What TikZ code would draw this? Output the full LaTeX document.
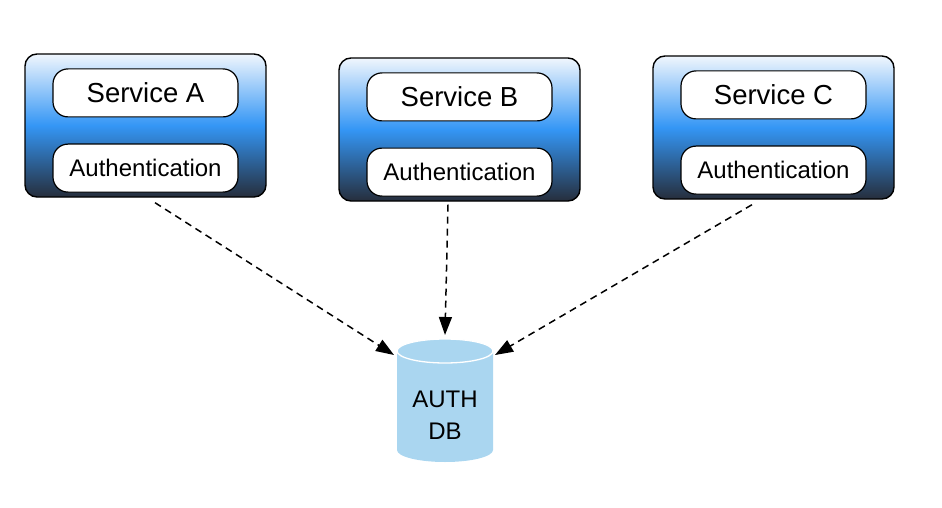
\documentclass[tikz,border=0pt]{standalone}
\usepackage{fontspec}
\setmainfont{Liberation Sans}
\usepackage{tikz}
\usetikzlibrary{arrows.meta,positioning,calc}
\definecolor{svctop}{RGB}{240,246,253}
\definecolor{svcblue}{RGB}{52,150,245}
\definecolor{svcdark}{RGB}{38,46,60}
\definecolor{dbfill}{RGB}{170,214,240}

\begin{document}
\begin{tikzpicture}[x=1pt, y=-1pt, >={Triangle[length=18pt,width=13pt]},
  svcbox/.style={draw, line width=1.4pt, rounded corners=12pt, top color=svctop, bottom color=svcdark, middle color=svcblue, minimum width=241pt, minimum height=143pt},
  namebox/.style={draw, line width=1.2pt, fill=white, rounded corners=15pt, minimum width=185pt, minimum height=48pt, font=\fontsize{27.5}{33}\selectfont},
  authbox/.style={namebox, font=\fontsize{24}{29}\selectfont},
  link/.style={->, dash pattern=on 7pt off 5pt, line width=1.5pt}]
\useasboundingbox (0,0) rectangle (942,508);
\node[svcbox] (boxA) at (145.5,125.5) {};
\node[svcbox] (boxB) at (459.5,129.5) {};
\node[svcbox] (boxC) at (773.5,127.5) {};
\node[namebox, below=15pt of boxA.north] (svcA) {Service A};
\node[authbox, above=5pt of boxA.south] (authA) {Authentication};
\node[namebox, below=15pt of boxB.north] (svcB) {Service B};
\node[authbox, above=5pt of boxB.south] (authB) {Authentication};
\node[namebox, below=15pt of boxC.north] (svcC) {Service C};
\node[authbox, above=5pt of boxC.south] (authC) {Authentication};
% database cylinder
\fill[dbfill] (397,351) -- (397,450) arc[start angle=180, end angle=0, x radius=48, y radius=12] -- (493,351) arc[start angle=0, end angle=-180, x radius=48, y radius=12] -- cycle;
\draw[white, line width=1.3pt] (445,351) ellipse[x radius=48, y radius=12];
\node[align=center, font=\fontsize{24}{32}\selectfont] (db) at (445,415) {AUTH\\DB};
\coordinate (dbl) at (394,355);
\coordinate (dbt) at (445,335);
\coordinate (dbr) at (495,355);
\draw[link] ([xshift=9.5pt, yshift=-5pt]boxA.south) -- (dbl);
\draw[link] ([xshift=-11.5pt, yshift=-3pt]boxB.south) -- (dbt);
\draw[link] ([xshift=-21.5pt, yshift=-5pt]boxC.south) -- (dbr);
\end{tikzpicture}
\end{document}
